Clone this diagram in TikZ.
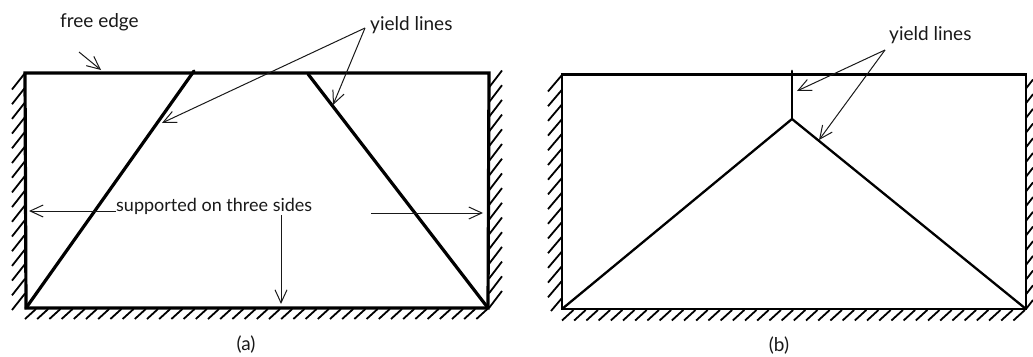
\documentclass[tikz,border=0pt]{standalone}
\usepackage{fontspec}
\setmainfont{Lato}
\usetikzlibrary{arrows.meta}
\tikzset{
  lab/.style={font=\fontsize{19}{22}\selectfont, inner sep=0pt, text=black!90},
  edge/.style={line width=3.2pt, draw=black, line cap=round},
  edgethin/.style={line width=2.3pt, draw=black, line cap=round},
  hatch/.style={line width=1.8pt, draw=black},
  arr/.style={-{Straight Barb[length=13pt,width=12pt,line width=1pt]}, line width=1pt, draw=black!90},
}
\begin{document}
\begin{tikzpicture}[x=1pt,y=-1pt]
  \useasboundingbox (0,0) rectangle (1033,356);
  % panel a
  \coordinate (atl) at (25,73);
  \coordinate (atr) at (489,73);
  \coordinate (abl) at (26,308);
  \coordinate (abr) at (488,308);
  \foreach \i in {0,...,15} \draw[hatch] (25,73+14.7*\i) -- ++(-13,16.5);
  \foreach \i in {0,...,15} \draw[hatch] (489,308-14.7*\i) -- ++(13,-17);
  \foreach \i in {0,...,37} \draw[hatch] (25+12.2*\i,319) -- ++(11,-10);
  \draw[edge] (abl) -- (atl) -- (atr) -- (abr) -- cycle;
  \draw[edge] (194,71) -- (abl);
  \draw[edge] (308,74) -- (abr);
  \node[lab, anchor=west] (free) at (60,22) {free edge};
  \node[lab, anchor=west] (yielda) at (370,25) {yield lines};
  \node[lab, anchor=west, font=\fontsize{18}{22}\selectfont] (supp) at (116,206) {supported on three sides};
  \node[lab] (capa) at (246,345) {(a)};
  \coordinate (freeend) at (79,52);
  \coordinate (freetip) at (101,70);
  \coordinate (yaroot) at (365,28);
  \coordinate (yatipl) at (162,123);
  \coordinate (yatipr) at (333,105);
  \draw[arr] (freeend) -- (freetip);
  \draw[arr] (yaroot) -- (yatipl);
  \draw[arr] (yaroot) -- (yatipr);
  \coordinate (sl) at (116,211);
  \coordinate (slt) at (29,211);
  \coordinate (sr) at (371,213);
  \coordinate (srt) at (483,213);
  \coordinate (sd) at (281,215);
  \coordinate (sdt) at (281,304);
  \draw[arr] (sl) -- (slt);
  \draw[arr] (sr) -- (srt);
  \draw[arr] (sd) -- (sdt);
  % panel b
  \coordinate (btl) at (562,74.5);
  \coordinate (btr) at (1026,74.5);
  \coordinate (bbl) at (562,309);
  \coordinate (bbr) at (1026,309);
  \coordinate (peak) at (792,119);
  \foreach \i in {0,...,14} \draw[hatch] (562,75+14.7*\i) -- ++(-14,16.5);
  \draw[hatch] (562,298) -- ++(-11,13);
  \foreach \i in {0,...,15} \draw[hatch] (1026,309-14.7*\i) -- ++(7,-9);
  \foreach \i in {0,...,37} \draw[hatch] (562+12.2*\i,320.5) -- ++(11.5,-10.5);
  \draw[edge, line width=2.8pt] (bbl) -- (btl) -- (btr) -- (bbr) -- cycle;
  \draw[edgethin, line width=2.8pt] (792,71) -- (peak);
  \draw[edgethin] (bbl) -- (peak) -- (bbr);
  \node[lab, anchor=west] (yieldb) at (889,35) {yield lines};
  \node[lab] (capb) at (779,346) {(b)};
  \coordinate (ybroot) at (885,50);
  \coordinate (ybtipt) at (797,91);
  \coordinate (ybtipb) at (819,140);
  \draw[arr] (ybroot) -- (ybtipt);
  \draw[arr] (ybroot) -- (ybtipb);
\end{tikzpicture}
\end{document}
